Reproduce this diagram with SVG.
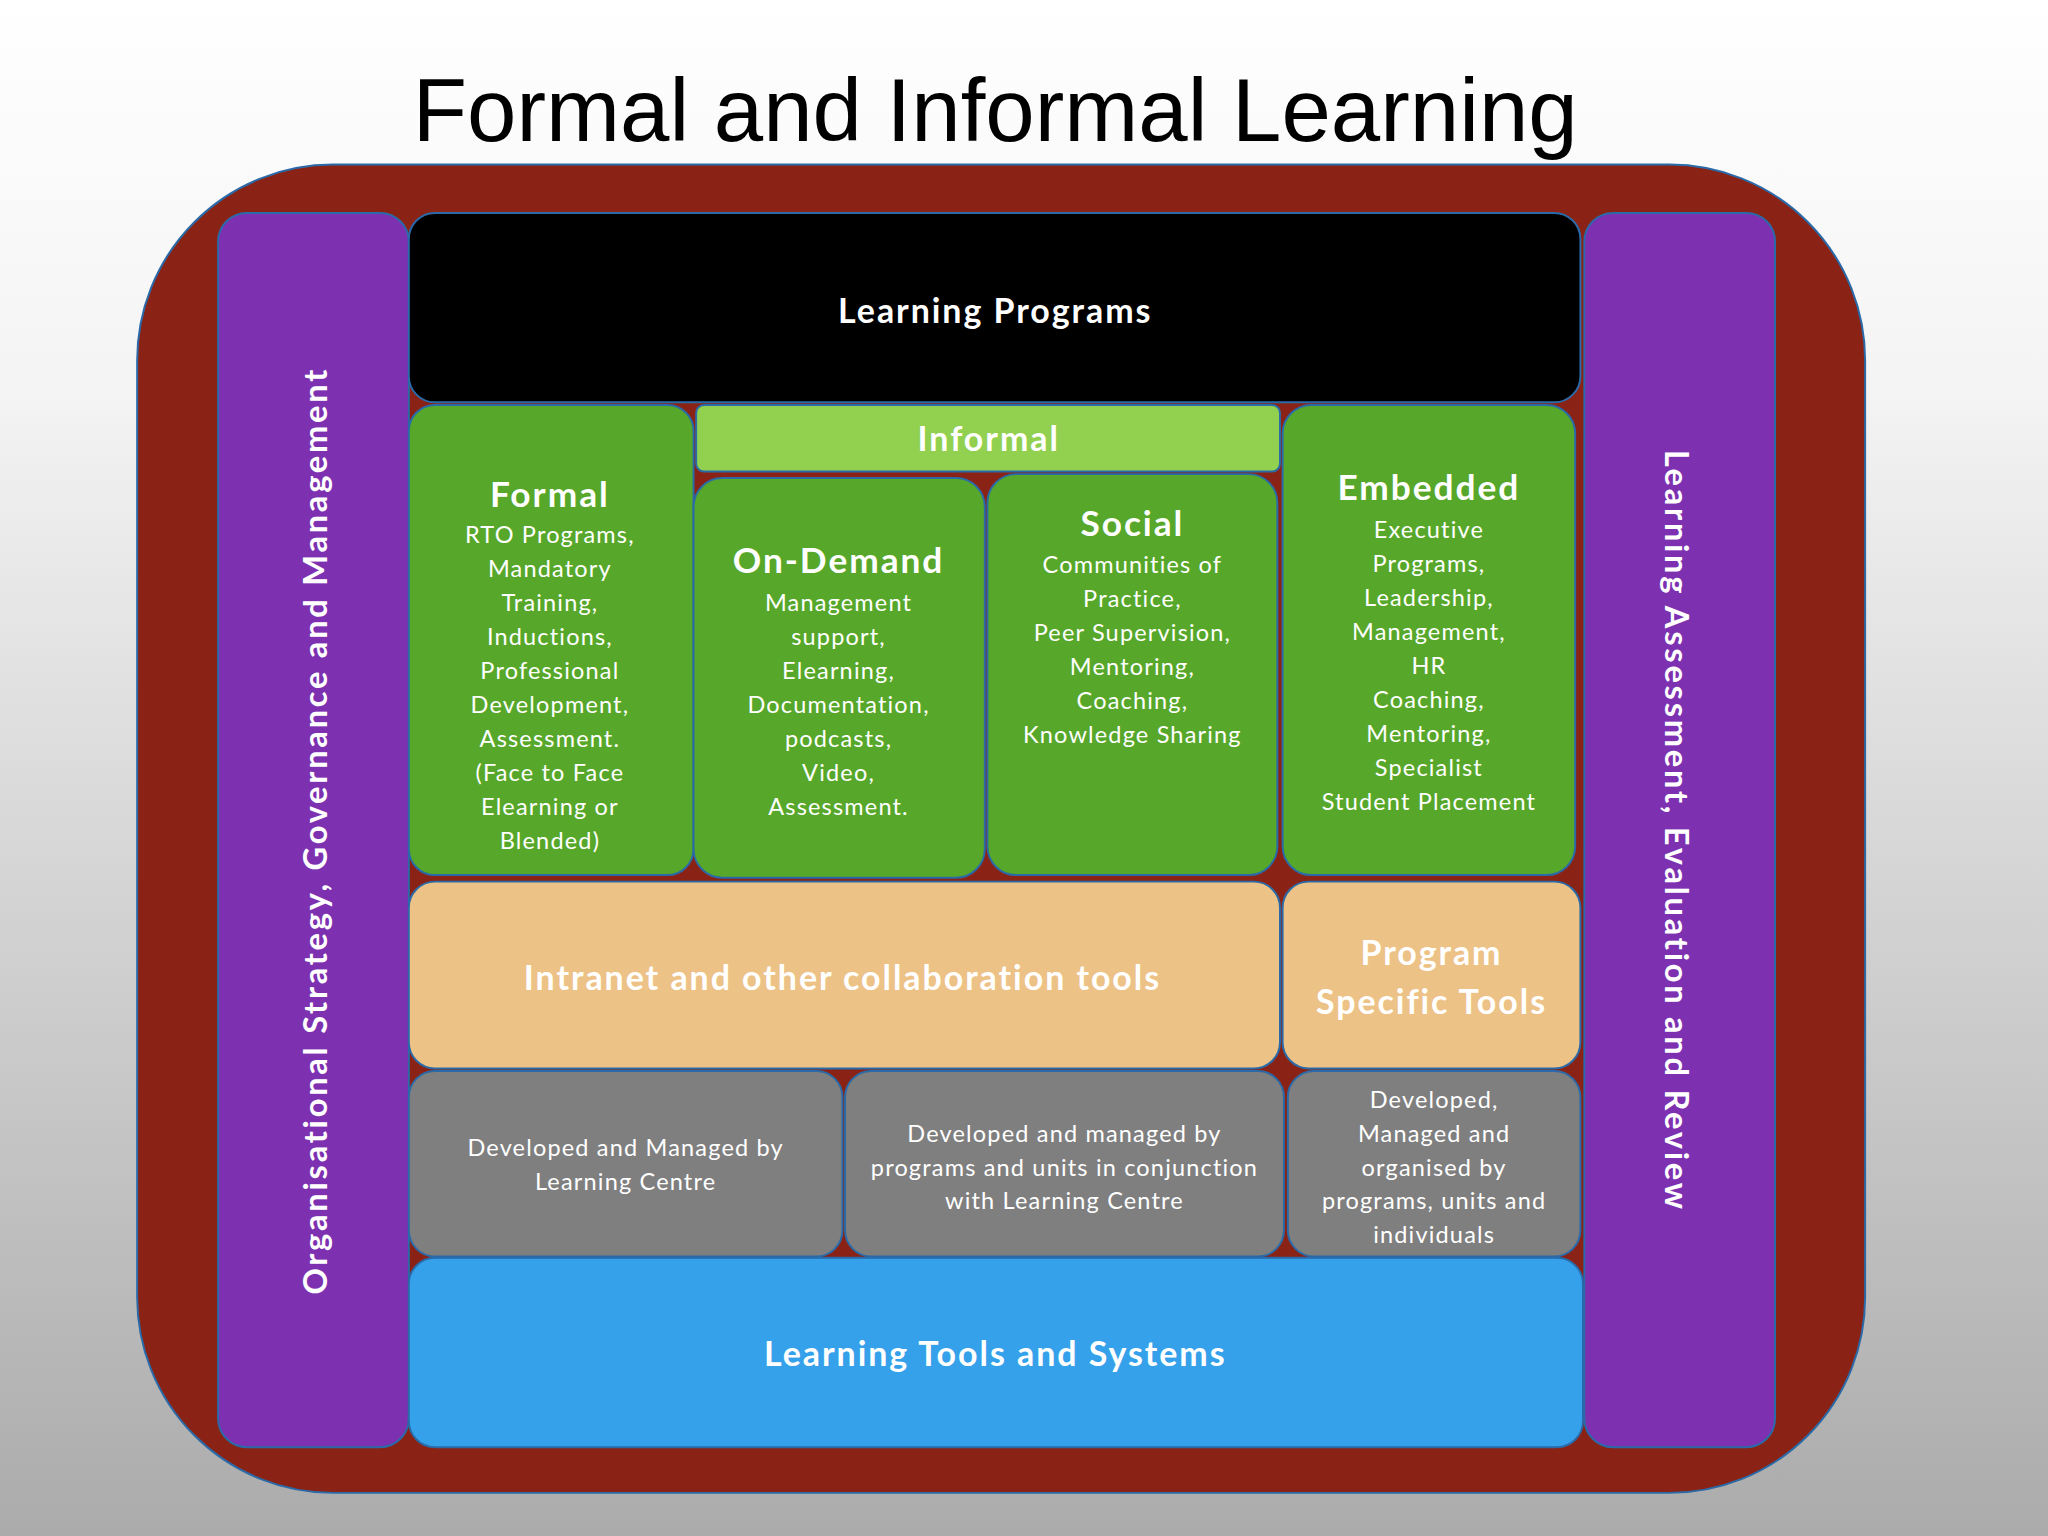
<svg xmlns="http://www.w3.org/2000/svg" width="2048" height="1536" viewBox="0 0 2048 1536">
<defs>
<linearGradient id="bg" x1="0" y1="0" x2="0" y2="1"><stop offset="0" stop-color="#ffffff"/><stop offset="0.25" stop-color="#f4f4f4"/><stop offset="1" stop-color="#ababab"/></linearGradient>
<style>
.b{stroke:#2a6aa8;stroke-width:1.5}
.h{font-family:Lato,"Open Sans",sans-serif;font-weight:bold;fill:#fff;text-anchor:middle;letter-spacing:1.5px}
.v{letter-spacing:2.1px}
.t{font-family:Lato,"Open Sans",sans-serif;fill:#fff;text-anchor:middle;font-size:18px;letter-spacing:0.9px}
</style>
</defs>
<rect width="2048" height="1536" fill="url(#bg)"/>
<g transform="scale(1.30612)">
<text x="762" y="108" font-family="Liberation Sans,Arial,sans-serif" font-size="68" text-anchor="middle" fill="#000">Formal and Informal Learning</text>
<rect id="outer" class="b" x="105" y="126" width="1323" height="1017" rx="150" fill="#8a2315"/>
<g id="left"><rect class="b" x="167" y="163" width="146" height="945" rx="22" fill="#7d31b1"/>
<text class="h v" font-size="25" transform="translate(250,636) rotate(-90)">Organisational Strategy, Governance and Management</text></g>
<g id="right"><rect class="b" x="1213" y="163" width="146" height="945" rx="22" fill="#7d31b1"/>
<text class="h v" font-size="25" transform="translate(1275,636) rotate(90)">Learning Assessment, Evaluation and Review</text></g>
<g id="programs"><rect class="b" x="313" y="163" width="897" height="145" rx="20" fill="#000"/>
<text class="h" x="762" y="247" font-size="26">Learning Programs</text></g>
<g id="formal"><rect class="b" x="313" y="310" width="218" height="360" rx="20" fill="#57a82a"/>
<text class="h" x="421" y="388" font-size="27">Formal</text>
<text class="t" x="421" y="416">RTO Programs,<tspan x="421" dy="26">Mandatory</tspan><tspan x="421" dy="26">Training,</tspan><tspan x="421" dy="26">Inductions,</tspan><tspan x="421" dy="26">Professional</tspan><tspan x="421" dy="26">Development,</tspan><tspan x="421" dy="26">Assessment.</tspan><tspan x="421" dy="26">(Face to Face</tspan><tspan x="421" dy="26">Elearning or</tspan><tspan x="421" dy="26">Blended)</tspan></text></g>
<g id="informal"><rect class="b" x="533" y="310" width="447" height="51" rx="6" fill="#92d050"/>
<text class="h" x="757" y="345" font-size="26">Informal</text></g>
<g id="ondemand"><rect class="b" x="531" y="366" width="223" height="306" rx="22" fill="#57a82a"/>
<text class="h" x="642" y="439" font-size="27">On-Demand</text>
<text class="t" x="642" y="468">Management<tspan x="642" dy="26">support,</tspan><tspan x="642" dy="26">Elearning,</tspan><tspan x="642" dy="26">Documentation,</tspan><tspan x="642" dy="26">podcasts,</tspan><tspan x="642" dy="26">Video,</tspan><tspan x="642" dy="26">Assessment.</tspan></text></g>
<g id="social"><rect class="b" x="756" y="363" width="222" height="307" rx="22" fill="#57a82a"/>
<text class="h" x="867" y="410" font-size="27">Social</text>
<text class="t" x="867" y="439">Communities of<tspan x="867" dy="26">Practice,</tspan><tspan x="867" dy="26">Peer Supervision,</tspan><tspan x="867" dy="26">Mentoring,</tspan><tspan x="867" dy="26">Coaching,</tspan><tspan x="867" dy="26">Knowledge Sharing</tspan></text></g>
<g id="embedded"><rect class="b" x="982" y="310" width="224" height="360" rx="22" fill="#57a82a"/>
<text class="h" x="1094" y="383" font-size="27">Embedded</text>
<text class="t" x="1094" y="412">Executive<tspan x="1094" dy="26">Programs,</tspan><tspan x="1094" dy="26">Leadership,</tspan><tspan x="1094" dy="26">Management,</tspan><tspan x="1094" dy="26">HR</tspan><tspan x="1094" dy="26">Coaching,</tspan><tspan x="1094" dy="26">Mentoring,</tspan><tspan x="1094" dy="26">Specialist</tspan><tspan x="1094" dy="26">Student Placement</tspan></text></g>
<g id="intranet"><rect class="b" x="313" y="675" width="667" height="143" rx="20" fill="#edc287"/>
<text class="h" x="645" y="758" font-size="26">Intranet and other collaboration tools</text></g>
<g id="pst"><rect class="b" x="982" y="675" width="228" height="143" rx="20" fill="#edc287"/>
<text class="h" x="1096" y="739" font-size="26">Program<tspan x="1096" dy="37">Specific Tools</tspan></text></g>
<g id="g1"><rect class="b" x="313" y="820" width="332" height="142" rx="20" fill="#7f7f7f"/>
<text class="t" x="479" y="885">Developed and Managed by<tspan x="479" dy="26">Learning Centre</tspan></text></g>
<g id="g2"><rect class="b" x="647" y="820" width="336" height="142" rx="20" fill="#7f7f7f"/>
<text class="t" x="815" y="874">Developed and managed by<tspan x="815" dy="26">programs and units in conjunction</tspan><tspan x="815" dy="26">with Learning Centre</tspan></text></g>
<g id="g3"><rect class="b" x="986" y="820" width="224" height="142" rx="20" fill="#7f7f7f"/>
<text class="t" x="1098" y="848">Developed,<tspan x="1098" dy="26">Managed and</tspan><tspan x="1098" dy="26">organised by</tspan><tspan x="1098" dy="26">programs, units and</tspan><tspan x="1098" dy="26">individuals</tspan></text></g>
<g id="tools"><rect class="b" x="313" y="963" width="899" height="145" rx="20" fill="#35a1ea"/>
<text class="h" x="762" y="1046" font-size="26">Learning Tools and Systems</text></g>
<g id="connectors"/>
</g>
</svg>
